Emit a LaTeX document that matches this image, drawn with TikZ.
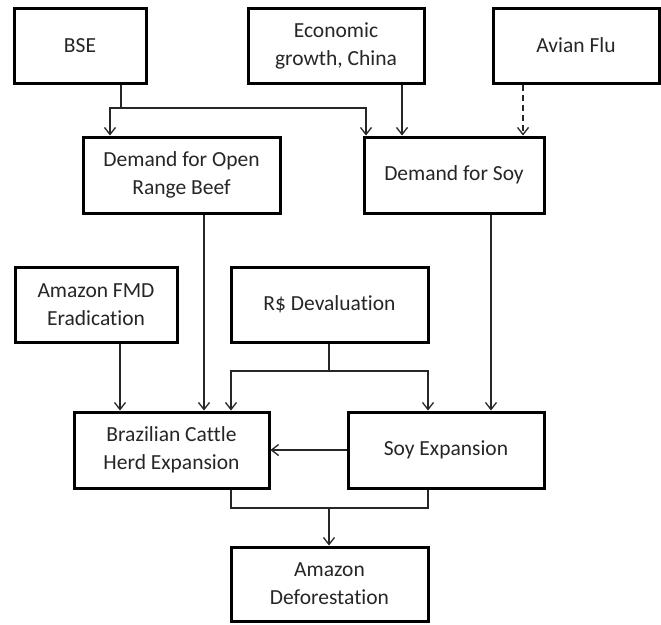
\documentclass[tikz,border=0pt]{standalone}
\usepackage{fontspec}
\setmainfont[Ligatures={NoCommon}]{Carlito}
\usetikzlibrary{arrows.meta}
\begin{document}
\begin{tikzpicture}[x=1pt,y=-1pt,
  box/.style={draw=black, line width=3pt, fill=white, align=center, inner sep=0pt,
    font=\fontsize{21.5}{28}\selectfont, text=black!85},
  conn/.style={line width=1.5pt, draw=black!85},
  arr/.style={conn, -{Straight Barb[length=7pt,width=11pt,line width=1.3pt]}}]
\useasboundingbox (0,0) rectangle (661,624);
\fill[white] (0,0) rectangle (661,624);
% top row
\node[box, minimum width=132pt, minimum height=75pt] (bse) at (80,45.5) {BSE};
\node[box, minimum width=176pt, minimum height=75pt] (econ) at (336,45.5) {Economic\\growth, China};
\node[box, minimum width=166pt, minimum height=75pt] (avian) at (576,45.5) {Avian Flu};
% second row
\node[box, minimum width=197pt, minimum height=76pt] (beef) at (181.5,175) {Demand for Open\\Range Beef};
\node[box, minimum width=180pt, minimum height=76pt] (soy) at (454,175) {Demand for Soy};
% third row
\node[box, minimum width=162pt, minimum height=75pt] (fmd) at (96,304.5) {Amazon FMD\\Eradication};
\node[box, minimum width=197pt, minimum height=75pt] (rdev) at (329.5,304.5) {R\$ Devaluation};
% fourth row
\node[box, minimum width=195pt, minimum height=76pt] (cattle) at (171.5,450) {Brazilian Cattle\\Herd Expansion};
\node[box, minimum width=196pt, minimum height=76pt] (soyexp) at (446,450) {Soy Expansion};
% bottom
\node[box, minimum width=197pt, minimum height=74pt] (defor) at (329.5,584) {Amazon\\Deforestation};
% helper coordinates
\coordinate (j1) at (121,108);
\coordinate (b1) at (110,108);
\coordinate (b2) at (366,108);
\coordinate (ex) at (402,0);
\coordinate (ax) at (523,0);
\coordinate (bx) at (204,0);
\coordinate (sx) at (491,0);
\coordinate (fx) at (120,0);
\coordinate (j2) at (329,371);
\coordinate (r1) at (231,371);
\coordinate (r2) at (428,371);
\coordinate (c1) at (231,508);
\coordinate (c2) at (428,508);
\coordinate (j3) at (329,508);
% connectors
\draw[conn] (bse.south -| j1) -- (j1);
\draw[arr] (j1) -- (b1) -- (b1 |- beef.north);
\draw[arr] (j1) -- (b2) -- (b2 |- soy.north);
\draw[arr] (econ.south -| ex) -- (soy.north -| ex);
\draw[arr, dashed, dash pattern=on 6pt off 4pt] (avian.south -| ax) -- (soy.north -| ax);
\draw[arr] (beef.south -| bx) -- (cattle.north -| bx);
\draw[arr] (soy.south -| sx) -- (soyexp.north -| sx);
\draw[arr] (fmd.south -| fx) -- (cattle.north -| fx);
\draw[conn] (rdev.south -| j2) -- (j2);
\draw[arr] (j2) -- (r1) -- (r1 |- cattle.north);
\draw[arr] (j2) -- (r2) -- (r2 |- soyexp.north);
\draw[arr] (soyexp.west) -- (cattle.east);
\draw[conn] (cattle.south -| c1) -- (c1) -- (c2) -- (soyexp.south -| c2);
\draw[arr] (j3) -- (defor.north -| j3);
\end{tikzpicture}
\end{document}
